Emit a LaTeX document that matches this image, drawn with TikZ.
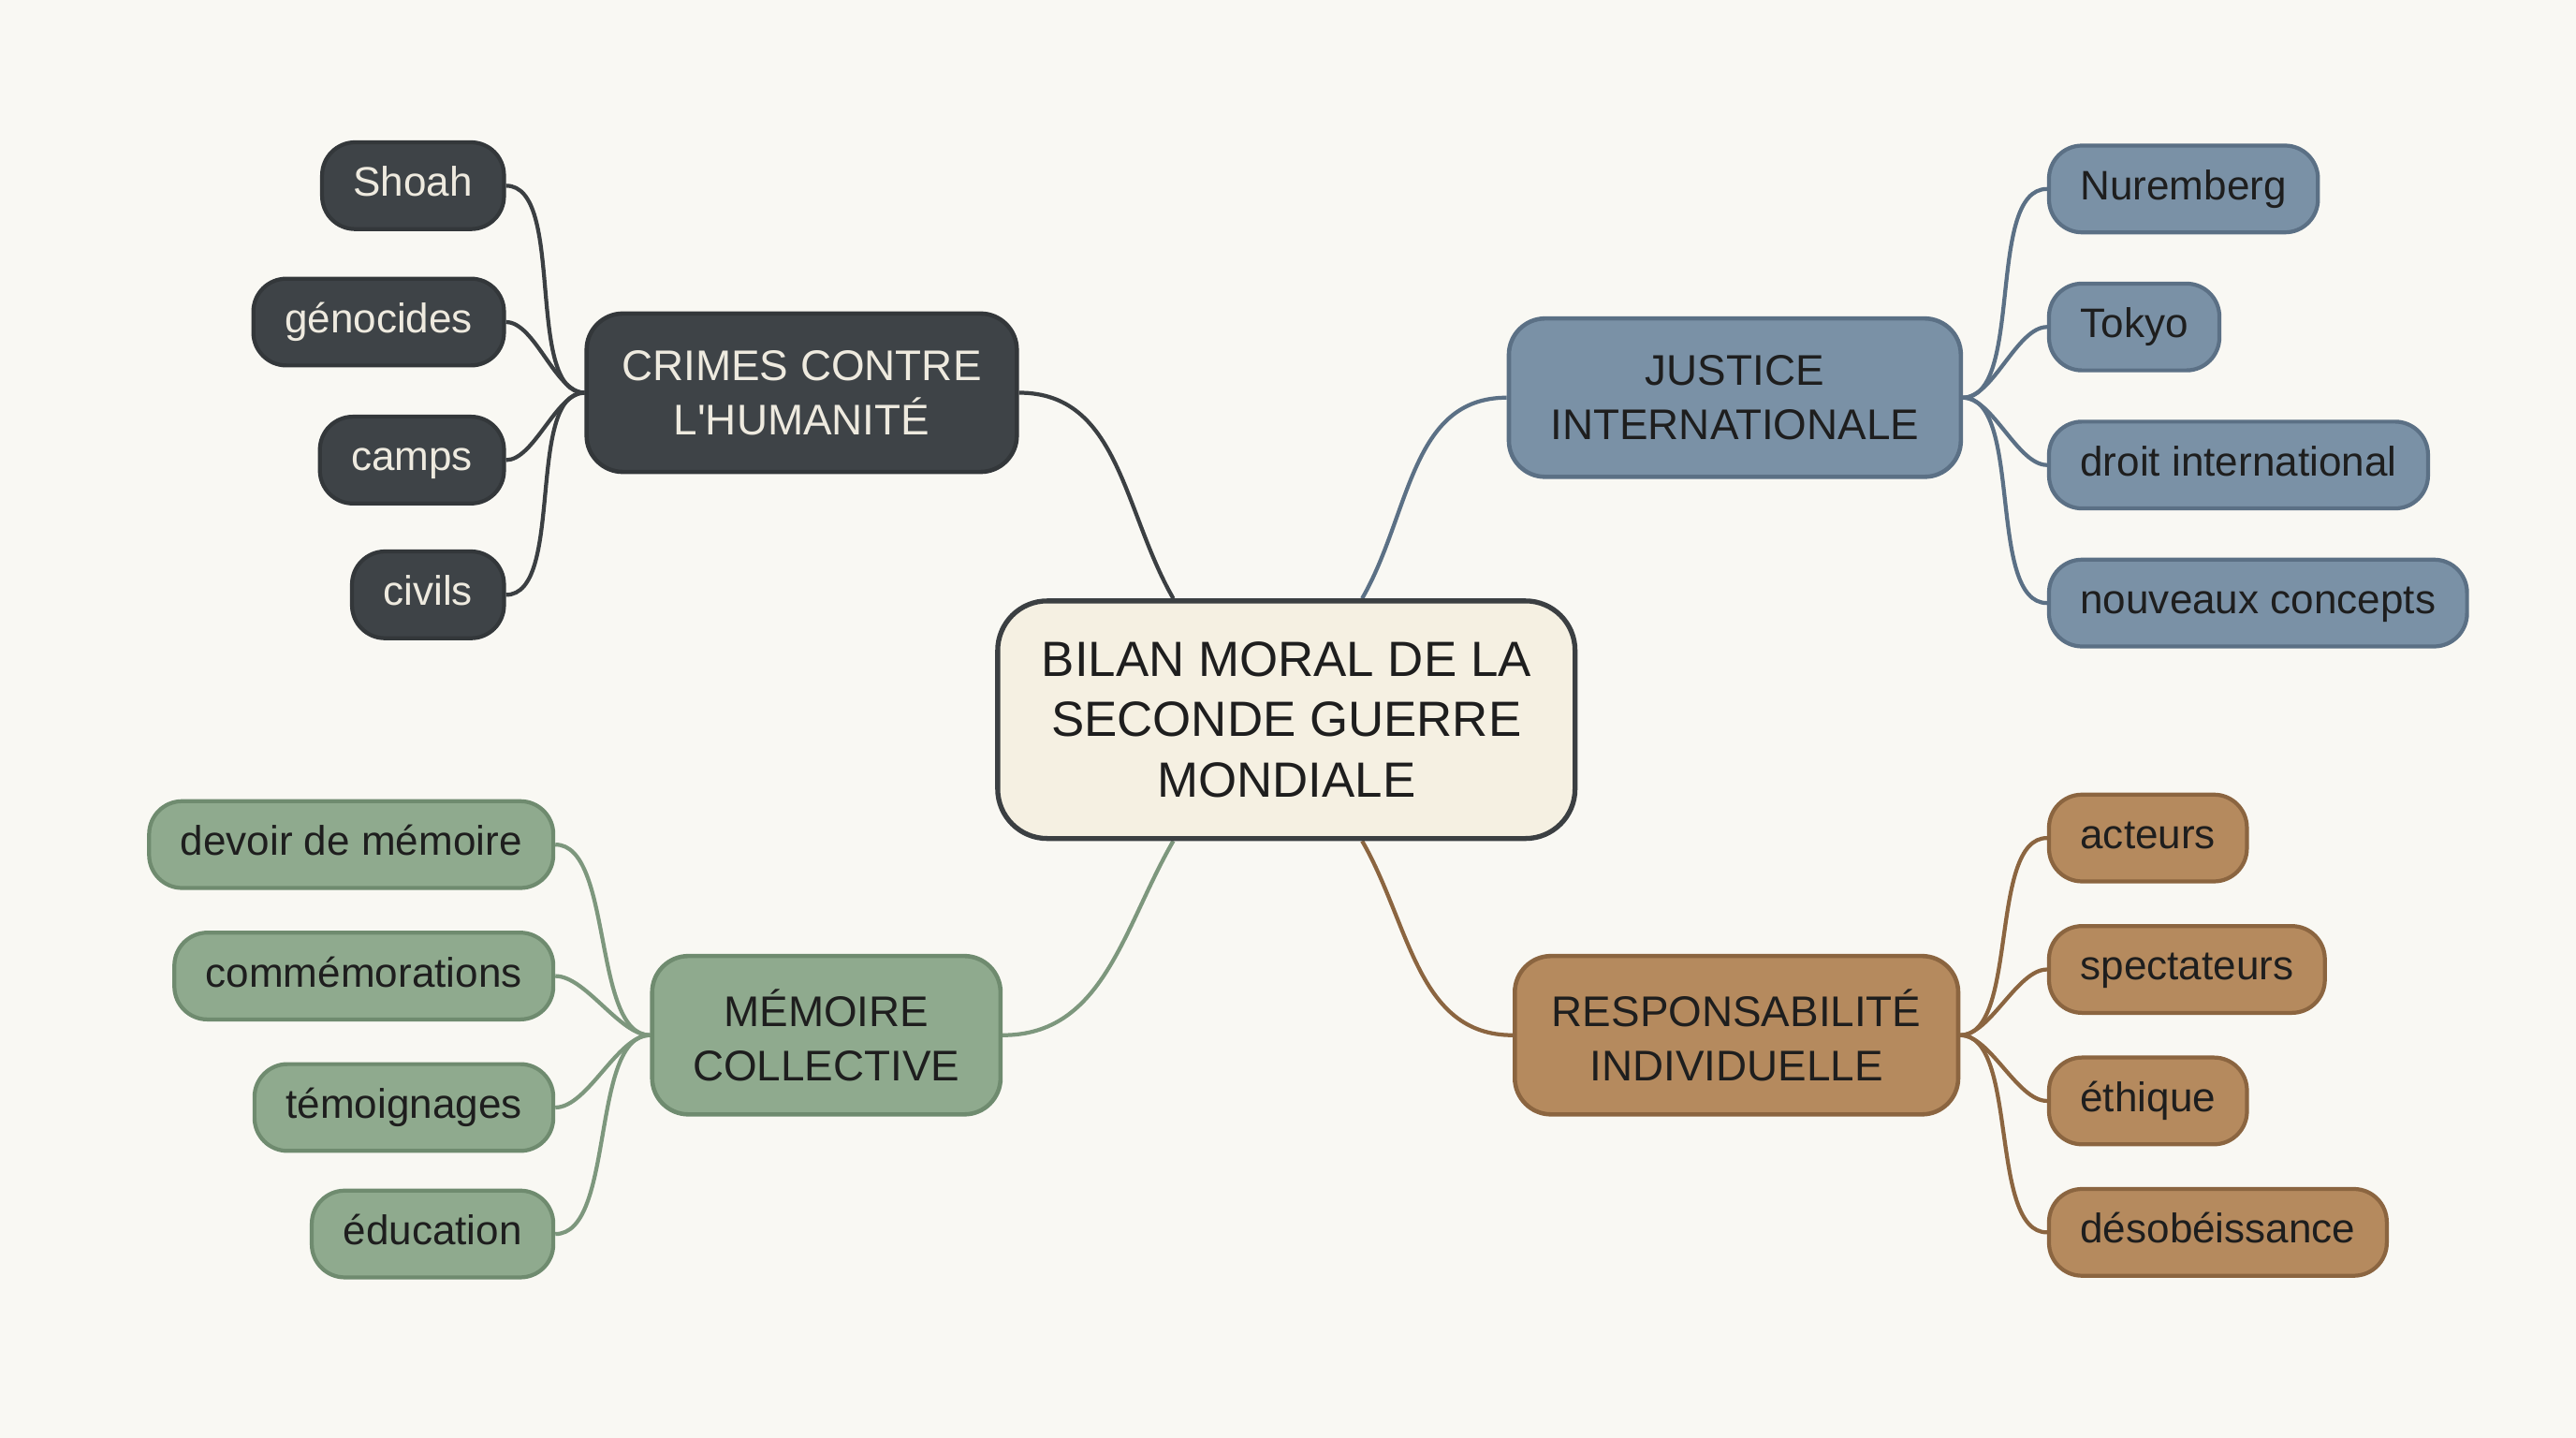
\documentclass[tikz,border=0pt]{standalone}
\usepackage{fontspec}
\setmainfont{Liberation Sans}[Ligatures=TeXOff]
\usetikzlibrary{backgrounds}
\definecolor{bgc}{HTML}{F9F8F3}
\definecolor{ctext}{HTML}{1E1E1E}
\definecolor{ccream}{HTML}{F5F0E2}
\definecolor{cdark}{HTML}{3B3F42}
\definecolor{crfill}{HTML}{3E4347}
\definecolor{crdraw}{HTML}{33373A}
\definecolor{crtext}{HTML}{EEEADF}
\definecolor{jufill}{HTML}{7A91A6}
\definecolor{judraw}{HTML}{5B7085}
\definecolor{mefill}{HTML}{8FAA8E}
\definecolor{medraw}{HTML}{6F8B6F}
\definecolor{refill}{HTML}{B58A5E}
\definecolor{redraw}{HTML}{8B6540}
\tikzset{
  mainbox/.style={rounded corners=15pt, draw=cdark, line width=1.5pt, fill=ccream,
    minimum width=175pt, minimum height=72pt, align=center, text=ctext,
    font=\fontsize{15}{18.4}\selectfont},
  headbox/.style={rounded corners=11pt, line width=1.3pt, minimum height=48pt,
    align=center, font=\fontsize{13}{16.4}\selectfont},
  leafbox/.style={rounded corners=10pt, line width=1.2pt, minimum height=26.3pt,
    inner xsep=9.5pt, text height=9pt, text depth=2.5pt,
    font=\fontsize{12.5}{15}\selectfont},
  crhead/.style={headbox, fill=crfill, draw=crdraw, text=crtext},
  juhead/.style={headbox, fill=jufill, draw=judraw, text=ctext},
  mehead/.style={headbox, fill=mefill, draw=medraw, text=ctext},
  rehead/.style={headbox, fill=refill, draw=redraw, text=ctext},
  crleaf/.style={leafbox, fill=crfill, draw=crdraw, text=crtext, anchor=east},
  juleaf/.style={leafbox, fill=jufill, draw=judraw, text=ctext, anchor=west},
  meleaf/.style={leafbox, fill=mefill, draw=medraw, text=ctext, anchor=east},
  releaf/.style={leafbox, fill=refill, draw=redraw, text=ctext, anchor=west},
  link/.style={line width=1.2pt},
  crlink/.style={link, draw=cdark},
  julink/.style={link, draw=judraw},
  melink/.style={link, draw=medraw!90!white},
  relink/.style={link, draw=redraw},
  leaflink/.style={out=0, in=180, looseness=0.7},
}
\begin{document}
\begin{tikzpicture}[x=0.0175cm, y=-0.0175cm]
\useasboundingbox (0,0) rectangle (1568,875);

% central node
\node[mainbox] (c) at (783,438) {BILAN MORAL DE LA\\SECONDE GUERRE\\MONDIALE};

% heads
\node[crhead, minimum width=130.4pt] (cr) at (488,239) {CRIMES CONTRE\\L'HUMANITÉ};
\node[juhead, minimum width=137pt] (ju) at (1056,242) {JUSTICE\\INTERNATIONALE};
\node[mehead, minimum width=105.6pt] (me) at (503,630) {MÉMOIRE\\COLLECTIVE};
\node[rehead, minimum width=134.4pt] (re) at (1057,630) {RESPONSABILITÉ\\INDIVIDUELLE};

% crimes leaves
\node[crleaf] (cr1) at (308,113) {Shoah};
\node[crleaf] (cr2) at (308,196) {génocides};
\node[crleaf] (cr3) at (308,280) {camps};
\node[crleaf] (cr4) at (308,362) {civils};

% justice leaves
\node[juleaf] (ju1) at (1246,115) {Nuremberg};
\node[juleaf] (ju2) at (1246,199) {Tokyo};
\node[juleaf] (ju3) at (1246,283) {droit international};
\node[juleaf] (ju4) at (1246,367) {nouveaux concepts};

% memoire leaves
\node[meleaf] (me1) at (338,514) {devoir de mémoire};
\node[meleaf] (me2) at (338,594) {commémorations};
\node[meleaf] (me3) at (338,674) {témoignages};
\node[meleaf] (me4) at (338,751) {éducation};

% responsabilite leaves
\node[releaf] (re1) at (1246,510) {acteurs};
\node[releaf] (re2) at (1246,590) {spectateurs};
\node[releaf] (re3) at (1246,670) {éthique};
\node[releaf] (re4) at (1246,750) {désobéissance};

\begin{scope}[on background layer]
\fill[bgc] (0,0) rectangle (1568,875);
% center to heads
\draw[crlink] (cr.east) to[out=0, in=120] (c.133);
\draw[julink] (ju.west) to[out=180, in=60] (c.58);
\draw[melink] (me.east) to[out=0, in=240] (c.227);
\draw[relink] (re.west) to[out=180, in=300] (c.302);
% heads to leaves
\foreach \i in {1,...,4} {
  \draw[crlink] (cr\i.east) to[leaflink] (cr.west);
  \draw[julink] (ju.east) to[leaflink] (ju\i.west);
  \draw[melink] (me\i.east) to[leaflink] (me.west);
  \draw[relink] (re.east) to[leaflink] (re\i.west);
}
\end{scope}
\end{tikzpicture}
\end{document}
